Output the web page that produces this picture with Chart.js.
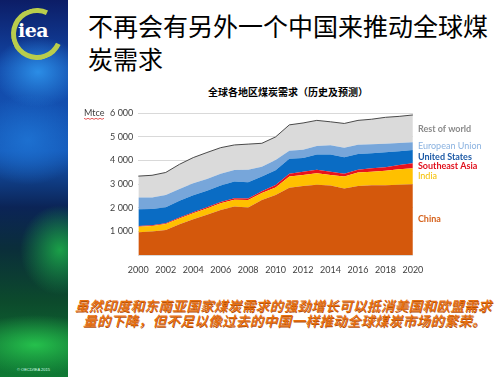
<!DOCTYPE html>
<html>
<head>
<meta charset="utf-8">
<script src="https://cdn.jsdelivr.net/npm/chart.js@4/dist/chart.umd.min.js"></script>
<style>
html,body{margin:0;padding:0;background:#fff;}
body{width:500px;height:377px;position:relative;overflow:hidden;font-family:"Noto Sans CJK SC",sans-serif;}
#strip{position:absolute;left:0;top:0;width:68px;height:377px;
background:
radial-gradient(ellipse 45px 35px at 38px 72px,#2b8de6 0%,rgba(43,141,230,0) 100%),
radial-gradient(ellipse 55px 45px at 28px 140px,#1d70d0 0%,rgba(29,112,208,0) 100%),
radial-gradient(ellipse 40px 45px at 60px 250px,#1aa048 0%,rgba(26,160,72,0) 100%),
radial-gradient(ellipse 75px 30px at 35px 345px,#25c04c 0%,rgba(37,192,76,0) 100%),
linear-gradient(to bottom,#0c1d66 0%,#1248a8 18%,#1458b8 40%,#0b2456 55%,#0a2e3a 66%,#0c4a2c 80%,#0f7a34 100%);}
#ring{position:absolute;left:11px;top:8px;width:42px;height:42px;border-radius:50%;
border:5px solid #b9cd4c;border-right-color:transparent;transform:rotate(-20deg);}
#iea{position:absolute;left:18px;top:19px;font:bold 19px "DejaVu Serif",serif;color:#fff;letter-spacing:-0.5px;}
#copy{position:absolute;left:17px;top:367px;font:4px "Liberation Sans",sans-serif;color:#dfe;}
#title{position:absolute;left:88px;top:9px;font-size:25px;line-height:33px;color:#000;}
#ctitle{position:absolute;left:188px;top:84px;width:200px;text-align:center;font-weight:bold;font-size:10px;color:#000;}
#note{position:absolute;left:75px;top:298px;font-size:13.6px;line-height:15px;font-style:italic;font-weight:500;letter-spacing:0.3px;color:#e8700e;text-shadow:0.6px 0.6px 0 #b0500f;}
#note .l2{display:block;padding-left:8px;}
#wrap{position:absolute;left:70px;top:80px;width:430px;height:200px;}
</style>
</head>
<body>
<div id="strip"></div>
<div id="ring"></div>
<div id="iea">iea</div>
<div id="copy">© OECD/IEA 2015</div>
<div id="title">不再会有另外一个中国来推动全球煤<br>炭需求</div>
<div id="ctitle">全球各地区煤炭需求（历史及预测）</div>
<div id="note"><span>虽然印度和东南亚国家煤炭需求的强劲增长可以抵消美国和欧盟需求</span><span class="l2">量的下降，但不足以像过去的中国一样推动全球煤炭市场的繁荣。</span></div>
<div id="wrap"><canvas id="c" width="430" height="200"></canvas></div>
<script>
const years = ['2000','2001','2002','2003','2004','2005','2006','2007','2008','2009','2010','2011','2012','2013','2014','2015','2016','2017','2018','2019','2020'];
const xTickLabels = ['2000','2002','2004','2006','2008','2010','2012','2014','2016','2018','2020'];
const yTickValues = [1000,2000,3000,4000,5000,6000];
const seriesNames = ['China','India','Southeast Asia','United States','European Union','Rest of world'];
const china  = [960,990,1060,1300,1510,1700,1910,2050,2010,2330,2540,2850,2920,2970,2940,2820,2920,2950,2950,2970,3000];
const india  = [240,240,250,250,260,270,280,290,320,300,320,470,470,490,450,500,570,580,620,660,670];
const seAsia = [30,30,35,40,45,50,55,60,65,70,100,120,140,150,140,120,120,140,150,180,210];
const usa    = [710,690,680,710,720,700,700,710,690,620,630,640,580,650,730,700,670,640,630,580,570];
const eu     = [490,480,520,490,500,500,500,490,520,420,430,330,350,360,390,400,390,380,360,350,320];
const rest   = [910,945,950,1050,1090,1120,1100,1060,1090,990,980,1100,1130,1080,990,1030,1030,1060,1120,1130,1160];
const unitLabel = 'Mtce';

const fills = ['#d4580c','#ffc000','#e8121c','#0a6cc4','#77a6da','#dadada'];
const labelColors = ['#d6631e','#f5c000','#e0101c','#1d5aa6','#8ab2e0','#8a8a8a'];
const labelWeights = ['bold','normal','bold','bold','normal','bold'];
const values = [china,india,seAsia,usa,eu,rest];

const datasets = values.map((v,i)=>({
  label: seriesNames[i],
  data: v,
  backgroundColor: fills[i],
  borderColor: i===5 ? '#4a4a4a' : fills[i],
  borderWidth: i===5 ? 1 : 0,
  pointRadius: 0,
  tension: 0,
  fill: i===0 ? 'origin' : '-1'
}));

const sideLabels = {
  id:'sideLabels',
  afterDatasetsDraw(chart){
    const ctx = chart.ctx, ys = chart.scales.y, area = chart.chartArea;
    ctx.save();
    ctx.textBaseline = 'middle';
    ctx.textAlign = 'left';
    let prev = ys.getPixelForValue(0);
    chart.data.datasets.forEach((ds,i)=>{
      const meta = chart.getDatasetMeta(i);
      const top = meta.data[meta.data.length-1].y;
      const mid = (top+prev)/2;
      prev = top;
      ctx.fillStyle = labelColors[i];
      ctx.font = labelWeights[i] + ' 9px Lato';
      ctx.fillText(ds.label, area.right + 5, mid);
    });
    const y6 = ys.getPixelForValue(6000);
    ctx.fillStyle = '#404040';
    ctx.font = '9px Lato';
    ctx.fillText(unitLabel, 14, y6);
    const w = ctx.measureText(unitLabel).width;
    ctx.strokeStyle = '#e03030';
    ctx.lineWidth = 0.8;
    ctx.beginPath();
    for(let x=0;x<=w;x+=2){ ctx.lineTo(14+x, y6+5+((x/2)%2?1:0)); }
    ctx.stroke();
    ctx.restore();
  }
};

new Chart(document.getElementById('c'),{
  type:'line',
  data:{labels:years,datasets},
  plugins:[sideLabels],
  options:{
    responsive:false,
    animation:false,
    layout:{padding:{left:8.3,right:87.1,top:33.3,bottom:5}},
    plugins:{legend:{display:false},tooltip:{enabled:false}},
    scales:{
      x:{
        offset:false,
        grid:{display:false},
        border:{display:false},
        ticks:{autoSkip:false,maxRotation:0,padding:2,color:'#404040',font:{family:'Lato',size:9},
          callback:(v,i)=> xTickLabels.includes(years[i]) ? years[i] : ''},
        afterFit:s=>{s.height=20;}
      },
      y:{
        stacked:true,
        min:0,max:6000,
        grid:{color:'#d9d9d9',drawTicks:false},
        border:{display:false},
        afterBuildTicks:s=>{s.ticks = [0].concat(yTickValues).map(v=>({value:v}));},
        ticks:{padding:5,color:'#404040',font:{family:'Lato',size:9},
          callback:v=> yTickValues.includes(v) ? String(v).replace(/\B(?=(\d{3})+(?!\d))/g,' ') : ''},
        afterFit:s=>{s.width=60;}
      }
    }
  }
});
</script>
</body>
</html>
